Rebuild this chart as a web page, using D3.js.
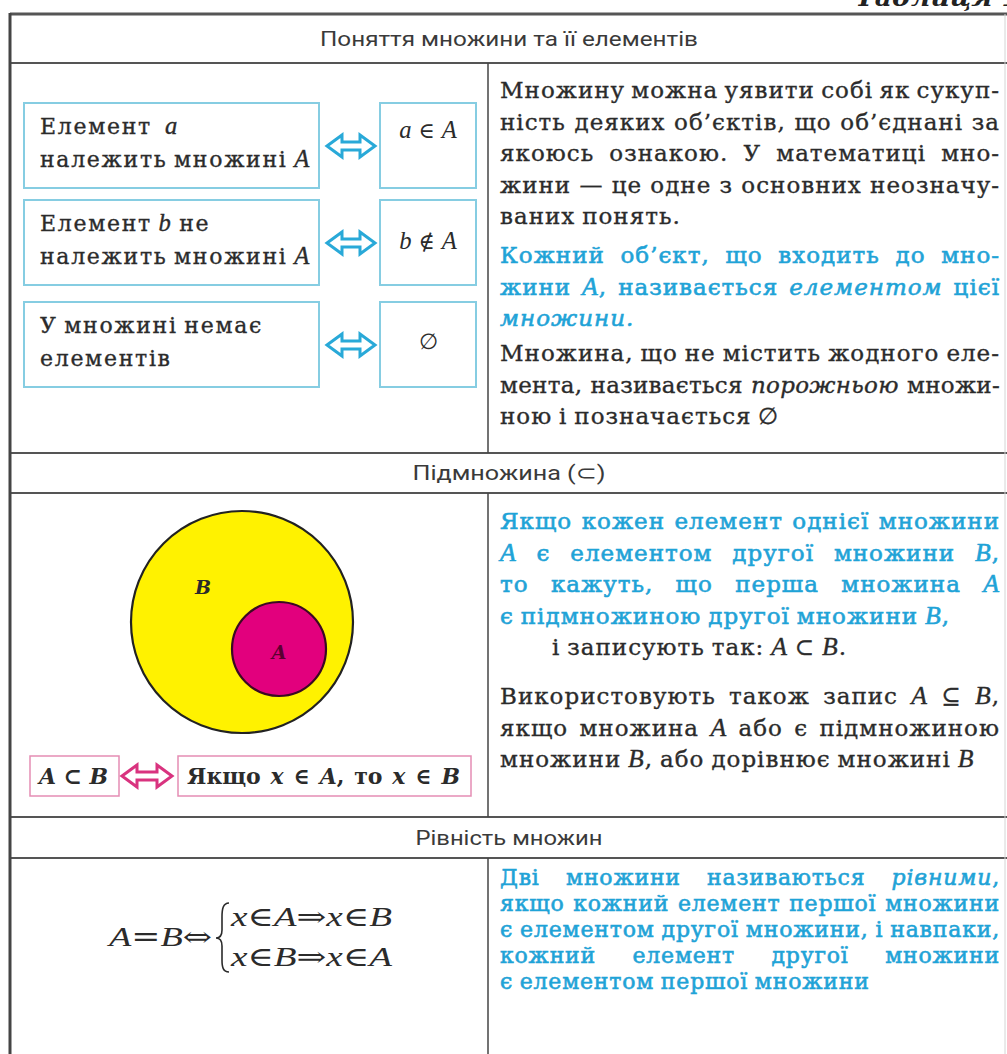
<!DOCTYPE html>
<html>
<head>
<meta charset="utf-8">
<script src="https://cdn.jsdelivr.net/npm/d3@7"></script>
<style>
html, body { margin: 0; padding: 0; background: #fff; }
svg { display: block; }
</style>
</head>
<body>
<svg id="table" width="1007" height="1054"></svg>
<script>
// table texts; "_x_" = math italic, "*x*" = italic text
var tableTitle = "Таблиця 1";
var headers = ["Поняття множини та її елементів", "Підмножина (⊂)", "Рівність множин"];

var boxLeft = [
  ["Елемент  _a_", "належить множині _A_"],
  ["Елемент _b_ не", "належить множині _A_"],
  ["У множині немає", "елементів"]
];
var boxRight = ["_a_ ∈ _A_", "_b_ ∉ _A_", "∅"];

var elemPar1 = ["Множину можна уявити собі як сукуп-", "ність деяких об’єктів, що об’єднані за",
  "якоюсь ознакою. У математиці мно-", "жини — це одне з основних неозначу-", "ваних понять."];
var elemPar2 = ["Кожний об’єкт, що входить до мно-", "жини _A_, називається *елементом* цієї", "*множини.*"];
var elemPar3 = ["Множина, що не містить жодного еле-", "мента, називається *порожньою* множи-", "ною і позначається ∅"];

var setNames = ["B", "A"];
var subBoxes = ["_A_ ⊂ _B_", "Якщо _x_ ∈ _A_, то _x_ ∈ _B_"];
var subPar1 = ["Якщо кожен елемент однієї множини", "_A_ є елементом другої множини _B_,",
  "то кажуть, що перша множина _A_", "є підмножиною другої множини _B_,"];
var subPar2 = ["і записують так: _A_ ⊂ _B_."];
var subPar3 = ["Використовують також запис _A_ ⊆ _B_,", "якщо множина _A_ або є підмножиною",
  "множини _B_, або дорівнює множині _B_"];

var eqLeft = "_A_=_B_⇔";
var eqCases = ["_x_∈_A_⇒_x_∈_B_", "_x_∈_B_⇒_x_∈_A_"];
var eqPar = ["Дві множини називаються *рівними*,", "якщо кожний елемент першої множини",
  "є елементом другої множини, і навпаки,", "кожний елемент другої множини", "є елементом першої множини"];

var SERIF = "'DejaVu Serif', 'Liberation Serif', serif";
var MATH = "'Liberation Serif', 'DejaVu Serif', serif";
var SANS = "Roboto, 'Liberation Sans Narrow', 'DejaVu Sans', sans-serif";
var INK = "#2b2b2b", CYAN = "#1fa3d7", PINK = "#d9337f";

var svg = d3.select("#table");

function runs(str) {
  var out = [], kind = "n", buf = "";
  function flush() { if (buf) out.push({t: buf, k: kind}); buf = ""; }
  for (var ch of str) {
    if (ch === "*") { flush(); kind = kind === "i" ? "n" : "i"; }
    else if (ch === "_") { flush(); kind = kind === "m" ? "n" : "m"; }
    else buf += ch;
  }
  flush();
  return out;
}

function addRuns(t, str, o) {
  runs(str).forEach(function(r) {
    t.append("tspan").text(r.t)
      .style("font-family", r.k === "m" ? (o.math || MATH) : (o.font || SERIF))
      .style("font-style", r.k === "n" ? "normal" : "italic")
      .style("font-size", (r.k === "m" ? o.size * (o.mathScale || 1.12) : o.size) + "px");
  });
}

// one line of words; justified lines widen the gaps, and letter spacing only if gaps get too wide
function drawLine(g, str, x, y, width, justify, o) {
  var items = [], total = 0, extra = 0, chars = 0, ls = o.ls || 0;
  str.split(" ").forEach(function(w) {
    if (w === "") { extra++; return; }
    var t = g.append("text").attr("y", y).attr("fill", o.color)
      .style("font-weight", o.weight || "normal")
      .style("letter-spacing", ls + "px");
    if (o.thick) t.attr("stroke", o.color).attr("stroke-width", o.thick);
    addRuns(t, w, o);
    var n = w.replace(/[_*]/g, "").length;
    items.push({t: t, w: t.node().getComputedTextLength(), n: n, pre: extra});
    extra = 0;
    chars += n;
  });
  var units = 0;
  items.forEach(function(it, i) { total += it.w; if (i > 0) units += 1 + it.pre; });
  var space = o.size * 0.3;
  var gap = space;
  if (justify && units > 0) {
    gap = (width - total) / units;
    if (gap > space * (o.maxGap || 4) || gap < space * 0.5) {
      var target = space * (o.gapScale || 1.2);
      var add = (width - total - units * target) / chars;
      total = 0;
      items.forEach(function(it) {
        it.t.style("letter-spacing", (ls + add) + "px");
        it.w = it.t.node().getComputedTextLength();
        total += it.w;
      });
      gap = (width - total) / units;
    }
  }
  var cx = x;
  items.forEach(function(it, i) {
    if (i > 0) cx += gap * (1 + it.pre);
    it.t.attr("x", cx);
    cx += it.w;
  });
}

function drawPar(g, lines, x, yTop, lh, width, o) {
  lines.forEach(function(l, i) {
    var last = i === lines.length - 1;
    drawLine(g, l, x + (o.indent || 0), yTop + i * lh + 7, width - (o.indent || 0), !last || o.justifyLast, o);
  });
}

function dblArrow(g, cx, cy, L, color) {
  var hl = 15, hh = 11, sh = 4, a = cx - L / 2, b = cx + L / 2;
  var p = d3.path();
  p.moveTo(a, cy); p.lineTo(a + hl, cy - hh); p.lineTo(a + hl, cy - sh);
  p.lineTo(b - hl, cy - sh); p.lineTo(b - hl, cy - hh); p.lineTo(b, cy);
  p.lineTo(b - hl, cy + hh); p.lineTo(b - hl, cy + sh); p.lineTo(a + hl, cy + sh);
  p.lineTo(a + hl, cy + hh); p.closePath();
  g.append("path").attr("d", p.toString()).attr("fill", "#fff")
    .attr("stroke", color).attr("stroke-width", 3).attr("stroke-linejoin", "miter");
}

function fitText(g, str, x, y, len, o) {
  var t = g.append("text").attr("x", x).attr("y", y).attr("fill", o.color || INK)
    .attr("textLength", len).attr("lengthAdjust", "spacingAndGlyphs")
    .style("font-weight", o.weight || "normal");
  addRuns(t, str, o);
  return t;
}

// --- frame ---
var X0 = 10, X1 = 1007, XM = 488;
var rowY = [14, 63, 453, 493, 817, 858];
var frame = svg.append("g");
frame.selectAll("line.h").data(rowY).enter().append("line")
  .attr("x1", X0).attr("x2", X1).attr("y1", function(d) { return d; }).attr("y2", function(d) { return d; })
  .attr("stroke", "#555").attr("stroke-width", function(d, i) { return i === 0 ? 3 : 2; });
frame.append("line").attr("x1", X0).attr("x2", X0).attr("y1", 13).attr("y2", 1054)
  .attr("stroke", "#444").attr("stroke-width", 3);
frame.append("line").attr("x1", 1005).attr("x2", 1005).attr("y1", 14).attr("y2", 1054)
  .attr("stroke", "#d4d4d4").attr("stroke-width", 1);
[[63, 453], [493, 817], [858, 1054]].forEach(function(s) {
  frame.append("line").attr("x1", XM).attr("x2", XM).attr("y1", s[0]).attr("y2", s[1])
    .attr("stroke", "#444").attr("stroke-width", 1.5);
});

svg.append("text").attr("x", 855).attr("y", 6).attr("fill", "#222")
  .attr("textLength", 165).attr("lengthAdjust", "spacingAndGlyphs")
  .style("font-family", SERIF).style("font-weight", "bold").style("font-style", "italic")
  .style("font-size", "24px").text(tableTitle);

var headY = [39, 473, 838], headW = [378, 193, 187];
svg.selectAll("text.head").data(headers).enter().append("text").attr("class", "head")
  .attr("x", 509).attr("y", function(d, i) { return headY[i] + 7; })
  .attr("text-anchor", "middle").attr("fill", "#3a3a3a")
  .attr("textLength", function(d, i) { return headW[i]; }).attr("lengthAdjust", "spacingAndGlyphs")
  .style("font-family", SANS).style("font-size", "21px").text(function(d) { return d; });

// --- section 1: element boxes ---
var sec1 = svg.append("g");
var boxTop = [103, 200, 302], boxH = 85, symOff = [28, 42, 40];
boxLeft.forEach(function(lines, i) {
  var y = boxTop[i];
  sec1.append("rect").attr("x", 24).attr("y", y).attr("width", 295).attr("height", boxH)
    .attr("fill", "#fff").attr("stroke", "#86cde2").attr("stroke-width", 2);
  sec1.append("rect").attr("x", 380).attr("y", y).attr("width", 96).attr("height", boxH)
    .attr("fill", "#fff").attr("stroke", "#86cde2").attr("stroke-width", 2);
  lines.forEach(function(l, j) {
    drawLine(sec1, l, 40, y + 24 + j * 33 + 7, 276, false, {size: 22, color: INK, ls: 1.7, thick: 0.35});
  });
  var t = sec1.append("text").attr("x", 428).attr("y", y + symOff[i] + 7)
    .attr("text-anchor", "middle").attr("fill", INK);
  addRuns(t, boxRight[i], {size: 22});
  dblArrow(sec1, 351, y + 43, 48, "#29a9d8");
});

var rightOpts = {size: 23, color: INK, ls: 1.0, thick: 0.35};
var cyanOpts = {size: 23, color: CYAN, ls: 1.0, thick: 0.6};
drawPar(svg, elemPar1, 500, 91, 31.5, 500, rightOpts);
drawPar(svg, elemPar2, 500, 256, 31.5, 500, cyanOpts);
drawPar(svg, elemPar3, 500, 354, 31.5, 500, rightOpts);

// --- section 2: subset ---
var sec2 = svg.append("g");
var circR = [111, 47], circC = [[242, 622], [279, 649]];
var circFill = ["#fff200", "#e2007d"], circStroke = ["#222", "#3a0a22"];
sec2.selectAll("circle").data(setNames).enter().append("circle")
  .attr("cx", function(d, i) { return circC[i][0]; }).attr("cy", function(d, i) { return circC[i][1]; })
  .attr("r", function(d, i) { return circR[i]; })
  .attr("fill", function(d, i) { return circFill[i]; })
  .attr("stroke", function(d, i) { return circStroke[i]; }).attr("stroke-width", 2.2);
var labPos = [[203, 594], [279, 659]], labCol = ["#2a2a2a", "#5a0030"];
sec2.selectAll("text.set").data(setNames).enter().append("text").attr("class", "set")
  .attr("x", function(d, i) { return labPos[i][0]; }).attr("y", function(d, i) { return labPos[i][1]; })
  .attr("text-anchor", "middle").attr("fill", function(d, i) { return labCol[i]; })
  .style("font-family", SERIF).style("font-weight", "bold").style("font-style", "italic")
  .style("font-size", "19px").text(function(d) { return d; });

var pinkBox = [[30, 89], [178, 293]];
pinkBox.forEach(function(b, i) {
  sec2.append("rect").attr("x", b[0]).attr("y", 756).attr("width", b[1]).attr("height", 40)
    .attr("fill", "#fff").attr("stroke", "#e58db4").attr("stroke-width", 1.5);
  drawLine(sec2, subBoxes[i], b[0] + 9, 776 + 8, b[1] - 20, true,
    {size: 22, color: INK, weight: "bold", math: SERIF, mathScale: 1, gapScale: 0.9});
});
dblArrow(sec2, 147, 776, 50, PINK);

drawPar(svg, subPar1, 500, 522, 31.5, 500, cyanOpts);
drawPar(svg, subPar2, 500, 648, 31.5, 500, Object.assign({indent: 52}, rightOpts));
drawPar(svg, subPar3, 500, 697, 31.5, 500, rightOpts);

// --- section 3: equality ---
var sec3 = svg.append("g");
var eqOpts = {size: 27, color: INK, font: SERIF, math: MATH, mathScale: 1.05};
fitText(sec3, eqLeft, 109, 937 + 9, 103, eqOpts);
eqCases.forEach(function(l, i) {
  fitText(sec3, l, 231, 917 + i * 40 + 9, 161, eqOpts);
});
sec3.append("path")
  .attr("d", "M229,903 C223,903 222,909 222,917 L222,930 C222,935 220,938 216,938 C220,938 222,941 222,946 L222,960 C222,967 223,972 229,972")
  .attr("fill", "none").attr("stroke", INK).attr("stroke-width", 1.6);

drawPar(svg, eqPar, 500, 878, 26, 500, {size: 22, color: CYAN, ls: 0.8, thick: 0.6, maxGap: 10});
</script>
</body>
</html>
